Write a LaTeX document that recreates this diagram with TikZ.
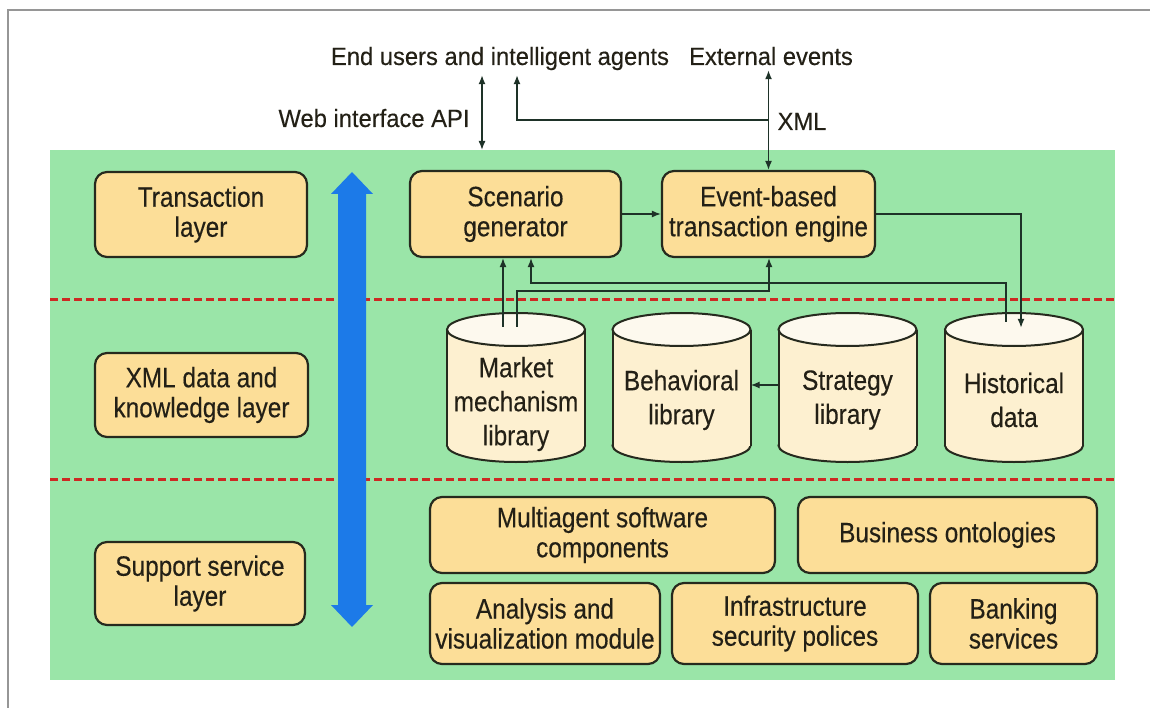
\documentclass[tikz,border=0pt]{standalone}
\usepackage{fontspec}
\setmainfont{Liberation Sans}[FakeStretch=0.87,FakeBold=0.3]
\newfontfamily\topfont{Liberation Sans}[FakeStretch=0.95,FakeBold=0.3]
\usetikzlibrary{arrows.meta,calc}
\definecolor{panelgreen}{RGB}{154,229,168}
\definecolor{boxfill}{RGB}{252,222,152}
\definecolor{boxline}{RGB}{38,42,30}
\definecolor{cylfill}{RGB}{253,240,208}
\definecolor{cyltop}{RGB}{253,249,238}
\definecolor{txt}{RGB}{35,32,22}
\definecolor{lineclr}{RGB}{30,50,40}
\definecolor{dashred}{RGB}{205,40,35}
\definecolor{bluearrow}{RGB}{28,122,232}
\definecolor{framegray}{RGB}{150,150,150}
\newcommand\mycyl[4]{%
  \path[draw=boxline,line width=2pt,fill=cylfill] (#2,445.5) ellipse (69 and 16.5);
  \fill[cylfill] (#2-69,329.5) rectangle (#2+69,445.5);
  \draw[boxline,line width=2pt] (#2-69,329.5) -- (#2-69,445.5) (#2+69,329.5) -- (#2+69,445.5);
  \path[draw=boxline,line width=2pt,fill=cyltop] (#2,329.5) ellipse (69 and 16.5);
  \node[cylshape] (#1) at (#2,387.5) {};
  \node[cyltext] (#1T) at (#2,#4) {#3};
}
\begin{document}
\begin{tikzpicture}[x=1pt,y=-1pt,
  box/.style={draw=boxline, line width=2.2pt, fill=boxfill, rounded corners=12pt,
    align=center, font=\fontsize{28}{30}\selectfont, text=txt, inner sep=0pt},
  cylshape/.style={minimum width=138pt, minimum height=149pt, inner sep=0pt},
  cyltext/.style={align=center, font=\fontsize{28}{34}\selectfont, text=txt, inner sep=0pt},
  toptext/.style={font=\topfont\fontsize{25}{28}\selectfont, text=txt, inner sep=2pt, outer ysep=3pt, anchor=base},
  conn/.style={draw=lineclr, line width=1.4pt},
  tip/.style={-{Latex[length=9pt,width=7pt]}},
  tips/.style={{Latex[length=9pt,width=7pt]}-{Latex[length=9pt,width=7pt]}},
  sep/.style={draw=dashred, line width=3pt, dash pattern=on 8pt off 4pt}
]
\useasboundingbox (0,0) rectangle (1150,708);
% frame
\draw[framegray, line width=1.5pt] (8,708) -- (8,10) -- (1150,10);
% panel
\node[fill=panelgreen, minimum width=1065pt, minimum height=530pt, inner sep=0pt, anchor=north west] (panel) at (50,150) {};
% separators
\draw[sep] (panel.west |- 0,300) -- (panel.east |- 0,300);
\draw[sep] (panel.west |- 0,479) -- (panel.east |- 0,479);
% layer boxes
\node[box, minimum width=212pt, minimum height=85pt] (trans) at (201,214.5) {Transaction\\layer};
\node[box, minimum width=213pt, minimum height=84pt] (xmll) at (201.5,395) {XML data and\\knowledge layer};
\node[box, minimum width=210pt, minimum height=83pt] (supp) at (200,583.5) {Support service\\layer};
% blue double arrow
\fill[bluearrow] (352,172) -- (373,194) -- (366,194) -- (366,605) -- (373,605) -- (352,627)
  -- (331,605) -- (338,605) -- (338,194) -- (331,194) -- cycle;
% transaction layer
\node[box, minimum width=211pt, minimum height=86pt] (scen) at (515.5,214) {Scenario\\generator};
\node[box, minimum width=213pt, minimum height=86pt] (event) at (768.5,214) {Event-based\\transaction engine};
% cylinders
\mycyl{mkt}{516}{Market\\mechanism\\library}{404}
\mycyl{beh}{681.5}{Behavioral\\library}{400}
\mycyl{str}{847.5}{Strategy\\library}{400}
\mycyl{hist}{1014}{Historical\\data}{400}
% support services
\node[box, minimum width=345pt, minimum height=76pt] (multi) at (602.5,535) {Multiagent software\\components};
\node[box, minimum width=299pt, minimum height=76pt] (bus) at (947.5,535) {Business ontologies};
\node[box, minimum width=230pt, minimum height=81pt] (anal) at (545,623.5) {Analysis and\\visualization module};
\node[box, minimum width=246pt, minimum height=81pt] (infra) at (795,623.5) {Infrastructure\\security polices};
\node[box, minimum width=167pt, minimum height=81pt] (bank) at (1013.5,623.5) {Banking\\services};
% top texts
\node[toptext] (eu) at (500,65) {End users and intelligent agents};
\node[toptext] (ext) at (771,65) {External events};
\node[toptext] (web) at (374,127) {Web interface API};
\node[toptext] (xml) at (802,130) {XML};
% top connectors
\coordinate (webx) at (482,150);
\draw[conn,tips] (webx |- eu.south) -- (webx |- panel.north);
\coordinate (agx) at (517,120);
\draw[conn,tip] (event.north |- agx) -| (agx |- eu.south);
\draw[conn,tips] (event.north |- ext.south) -- (event.north);
% inner connectors
\draw[conn,tip] (scen.east) -- (event.west);
\coordinate (mktA) at ($(mkt.north)+(-13,14)$);
\draw[conn,tip] (mktA) -- (mktA |- scen.south);
\coordinate (mktB) at ($(mkt.north)+(1,14)$);
\coordinate (bTurn) at (769,291);
\draw[conn,tip] (mktB) |- (bTurn) -- (bTurn |- event.south);
\coordinate (histOut) at ($(hist.north)+(-8,9)$);
\coordinate (cTurn) at (531,283);
\draw[conn,tip] (histOut) |- (cTurn) -- (cTurn |- scen.south);
\coordinate (histIn) at ($(hist.north)+(7,15)$);
\draw[conn,tip] (event.east) -| (histIn);
\draw[conn,tip] ([yshift=2.5pt]str.west) -- ([yshift=2.5pt]beh.east);
\end{tikzpicture}
\end{document}
